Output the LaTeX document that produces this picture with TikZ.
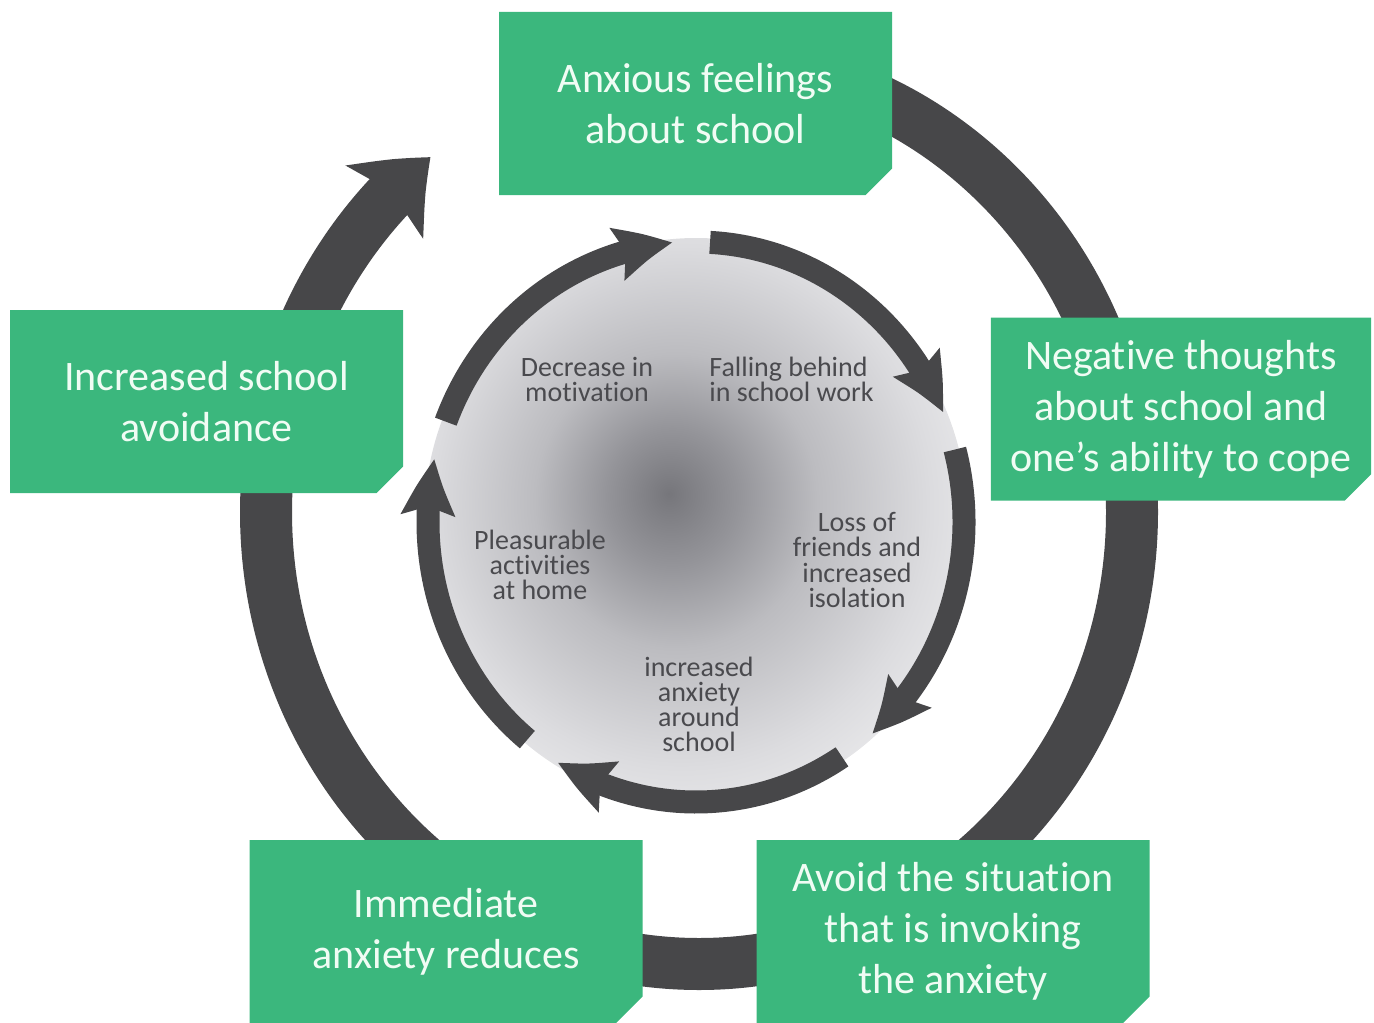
\documentclass[tikz,border=0pt]{standalone}
\usepackage{fontspec}
\setmainfont{Carlito}[RawFeature={-liga;-clig;-dlig;-calt}]
\usetikzlibrary{arrows.meta,bending,shapes.misc}

\definecolor{boxgreen}{RGB}{59,183,125}
\definecolor{ringgray}{RGB}{71,71,73}
\definecolor{boxtext}{RGB}{240,252,244}
\definecolor{innertext}{RGB}{74,74,78}
\definecolor{discdark}{RGB}{118,118,123}
\definecolor{discdeep}{RGB}{148,148,153}
\definecolor{discmid}{RGB}{188,188,192}
\definecolor{disclight}{RGB}{220,220,223}
\definecolor{discpale}{RGB}{242,242,243}
\definecolor{discedge}{RGB}{250,250,250}
\pgfdeclareradialshading{discshade}{\pgfpoint{-2.5bp}{2.5bp}}{%
  color(0bp)=(discdark); color(6bp)=(discdeep); color(13bp)=(discmid);
  color(23bp)=(disclight); color(32bp)=(discpale); color(50bp)=(discedge)}

\begin{document}
\begin{tikzpicture}[x=0.5pt, y=-0.5pt,
    stepbox/.style={chamfered rectangle, chamfered rectangle corners=south east,
      chamfered rectangle xsep=10pt, fill=boxgreen, text=boxtext, inner sep=0pt,
      minimum width=196.5pt, minimum height=91.5pt, align=center,
      font=\fontsize{21pt}{25.5pt}\selectfont},
    innerlbl/.style={text=innertext, inner sep=0pt, align=center,
      font=\fontsize{14pt}{12.6pt}\selectfont},
    outerarrow/.style={draw=ringgray, line width=26pt,
      -{Stealth[length=32pt, width=52pt, inset=6pt, bend]}},
    innerarrow/.style={draw=ringgray, line width=11.5pt,
      -{Stealth[length=28pt, width=26pt, inset=4pt, bend]}}]
    \useasboundingbox (0,0) rectangle (1374,1022);
    % Centres of the two cycles
    \coordinate (outerc) at (699,512);
    \coordinate (innerc) at (696,522);
    % Shaded disc
    \shade[shading=discshade] (innerc) ellipse [x radius=272, y radius=284];
    % Inner cycle
    \foreach \a in {201,273,345,417,489}
        \draw[innerarrow] (innerc) ++(\a:268 and 280)
            arc[start angle=\a, end angle=\a+64, x radius=268, y radius=280];
    % Outer cycle
    \draw[outerarrow] (outerc) ++(-90:433 and 452)
        arc[start angle=-90, end angle=231.7, x radius=433, y radius=452];
    % Boxes
    \node[stepbox] (anxious) at (695.5,103.5) {Anxious feelings\\about school};
    \node[stepbox] (avoidance) at (206.5,401.5) {Increased school\\avoidance};
    \node[stepbox, minimum width=188pt] (negative) at (1181,409)
        {Negative thoughts\\about school and\\one’s ability to cope};
    \node[stepbox] (reduces) at (446,931.5) {Immediate\\anxiety reduces};
    \node[stepbox] (avoid) at (953,931.5)
        {Avoid the situation\\that is invoking\\the anxiety};
    % Inner labels
    \node[innerlbl] (motivation) at (587,379.5) {Decrease in\\motivation};
    \node[innerlbl, align=left, anchor=west] (behind) at (709,379.5)
        {Falling behind\\in school work};
    \node[innerlbl] (isolation) at (857,560)
        {Loss of\\friends and\\increased\\isolation};
    \node[innerlbl] (home) at (540,565) {Pleasurable\\activities\\at home};
    \node[innerlbl] (anxiety) at (699,704.5) {increased\\anxiety\\around\\school};
\end{tikzpicture}
\end{document}
